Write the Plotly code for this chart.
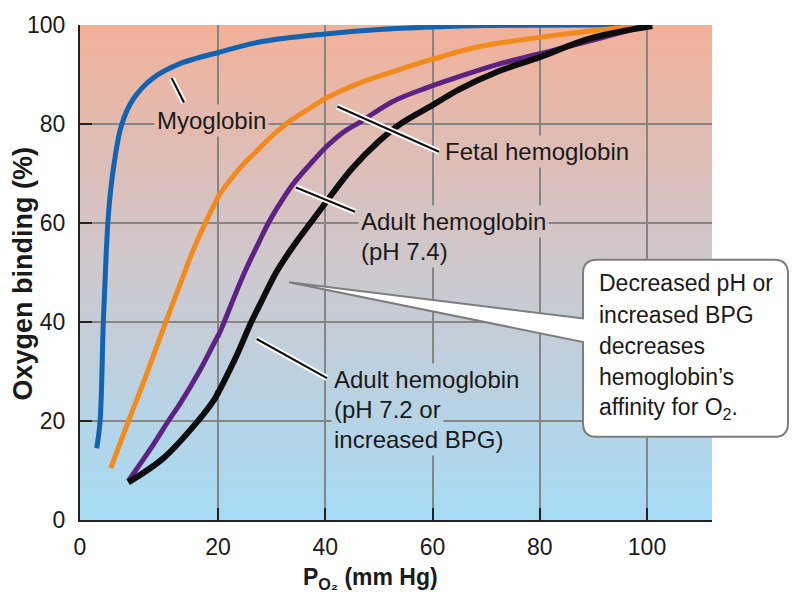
import plotly.graph_objects as go
import zlib, struct, base64

# ---------------- data ----------------
myo_x = [2.42, 2.9, 3.38, 3.8, 4.1, 4.4, 4.85, 6.0, 7.7, 10.6, 14.5, 20, 28, 40, 50, 60, 70, 100]
myo_y = [14.5, 19.8, 40, 54, 61.3, 66, 71.1, 79.7, 85, 89.3, 92.2, 94.4, 96.6, 98.2, 99.1, 99.6, 99.9, 100]

fetal_x = [4.45, 7.0, 9.4, 12.3, 14.5, 16.4, 18.6, 19.5, 20, 20.5, 22.2, 24.5, 27.1, 29.3, 31.6, 33.4,
           36.4, 40.3, 46.5, 52.7, 60, 69, 80, 89.4, 100]
fetal_y = [10.5, 19.9, 28.5, 39.5, 47.6, 54.5, 61.3, 63.8, 65.2, 66.1, 68.6, 71.6, 74.4, 76.8, 79.0, 80.6,
           82.7, 85.3, 88.3, 90.6, 93.1, 95.7, 97.5, 98.8, 100]

adult74_x = [7.0, 10.6, 12.8, 14.5, 17.4, 19.5, 20, 20.5, 21, 24.7, 27.8, 29.4, 30.9, 33.8, 37.2, 40.3,
             43.3, 46.5, 52.7, 58.9, 65.1, 72, 80, 89.4, 100]
adult74_y = [7.9, 15.2, 20, 23.5, 30.3, 35.9, 37.2, 38.3, 39.6, 49.4, 56.5, 60, 62.8, 67.6, 71.9, 75.5,
             78.3, 80.4, 84.6, 87.3, 89.6, 92, 94.2, 96.8, 100]

adult72_x = [7.0, 12.1, 17.1, 19.5, 20, 20.5, 23.5, 26.2, 27.8, 31, 34.5, 37.8, 40, 45, 50, 54, 60, 65,
             72, 80, 89.4, 101]
adult72_y = [7.6, 12.5, 20, 24.4, 25.7, 26.7, 33.3, 40, 43.5, 50.3, 56, 60.8, 64, 71, 76.5, 80, 83.8, 87,
             90.5, 93.5, 97.3, 99.8]

x_ticks_low = [0, 20]
x_ticks_high = [40, 60, 80, 100]
y_ticks = [0, 20, 40, 60, 80, 100]

# ---------------- layout geometry ----------------
W, H = 800, 610
ML, MR, MT, MB = 80, 88, 14, 90
PW, PH = W - ML - MR, H - MT - MB
SPLIT = 20                          # the 0-20 span of the axis is drawn stretched
SPLIT_PX = 218
LOW_SCALE = (SPLIT_PX - ML) / SPLIT   # px per mm Hg below 20
HIGH_SCALE = 5.3625                    # px per mm Hg above 20
OV = 6                                 # px of overlap between the two axis segments
x2_max = SPLIT + (W - MR - SPLIT_PX) / HIGH_SCALE

FONT = "Liberation Sans, Arial, sans-serif"
TXT = "#1a1a1a"


def px(xp):
    return (xp - ML) / PW


def py(yp):
    return (H - MB - yp) / PH


stops = [(0.0, (166, 219, 245)), (0.5, (205, 201, 207)), (1.0, (242, 177, 154))]


def grad(t):
    t = max(0.0, min(1.0, t))
    for (t0, c0), (t1, c1) in zip(stops[:-1], stops[1:]):
        if t0 <= t <= t1:
            f = (t - t0) / (t1 - t0)
            return tuple(int(round(a + (b - a) * f)) for a, b in zip(c0, c1))
    return stops[-1][1]


def gradient_png(n=PH, w=4):
    rows = []
    for i in range(n):
        t = 1 - i / (n - 1)
        c = grad(t)
        rows.append(b"\x00" + bytes(c) * w)
    raw = b"".join(rows)

    def chunk(tag, data):
        return (struct.pack(">I", len(data)) + tag + data +
                struct.pack(">I", zlib.crc32(tag + data) & 0xffffffff))
    ihdr = struct.pack(">IIBBBBB", w, n, 8, 2, 0, 0, 0)
    png = (b"\x89PNG\r\n\x1a\n" + chunk(b"IHDR", ihdr) +
           chunk(b"IDAT", zlib.compress(raw, 9)) + chunk(b"IEND", b""))
    return "data:image/png;base64," + base64.b64encode(png).decode()


fig = go.Figure()

series = [
    (myo_x, myo_y, "#1263b0", 5),
    (fetal_x, fetal_y, "#f28a1c", 5),
    (adult74_x, adult74_y, "#5c2383", 5),
    (adult72_x, adult72_y, "#0d0d0d", 6),
]
for xs, ys, col, lw in series:
    low = [(a, b) for a, b in zip(xs, ys) if a <= SPLIT]
    high = [(a, b) for a, b in zip(xs, ys) if a >= SPLIT]
    for pts, xa in ((low, "x"), (high, "x2")):
        fig.add_trace(go.Scatter(x=[p[0] for p in pts], y=[p[1] for p in pts],
                                 mode="lines", xaxis=xa, yaxis="y",
                                 line=dict(color=col, width=lw, shape="spline", smoothing=1.0),
                                 showlegend=False, hoverinfo="skip"))
    joint = [(a, b) for a, b in zip(xs, ys) if a == SPLIT]
    fig.add_trace(go.Scatter(x=[p[0] for p in joint], y=[p[1] for p in joint],
                             mode="markers", xaxis="x2", yaxis="y", cliponaxis=False,
                             marker=dict(color=col, size=lw, line=dict(width=0)),
                             showlegend=False, hoverinfo="skip"))

axis_common = dict(showline=True, linecolor="#222", linewidth=2, ticks="inside",
                   ticklen=12, tickwidth=2, tickcolor="#222", showgrid=True,
                   gridcolor="#858585", gridwidth=1.5, zeroline=False,
                   tickfont=dict(family=FONT, size=23, color=TXT))

fig.update_layout(
    width=W, height=H,
    margin=dict(l=ML, r=MR, t=MT, b=MB),
    paper_bgcolor="white", plot_bgcolor="rgba(0,0,0,0)",
    xaxis=dict(domain=[0, (SPLIT_PX + OV - ML) / PW], range=[0, SPLIT + OV / LOW_SCALE],
               tickvals=x_ticks_low, anchor="y", ticklabelstandoff=5, **axis_common),
    xaxis2=dict(domain=[(SPLIT_PX - OV - ML) / PW, 1], range=[SPLIT - OV / HIGH_SCALE, x2_max],
                tickvals=x_ticks_high, anchor="y", ticklabelstandoff=5, **axis_common),
    yaxis=dict(domain=[0, 1], range=[0, 100], tickvals=y_ticks, anchor="x",
               ticklabelstandoff=8, **axis_common),
    images=[dict(source=gradient_png(), xref="paper", yref="paper", x=0, y=1,
                 sizex=1, sizey=1, xanchor="left", yanchor="top",
                 sizing="stretch", layer="below")],
)

shapes = []

# callout box with wedge (pixel geometry -> paper)
bx0, bx1, by0, by1, r = 583, 788, 254, 435, 14
tip = (289, 277)
up_y, lo_y = 314, 338


def P(a, b):
    return f"{px(a):.5f},{py(b):.5f}"


path = (f"M{P(bx0, lo_y)} L{P(bx0, by1 - r)} Q{P(bx0, by1)} {P(bx0 + r, by1)} "
        f"L{P(bx1 - r, by1)} Q{P(bx1, by1)} {P(bx1, by1 - r)} "
        f"L{P(bx1, by0 + r)} Q{P(bx1, by0)} {P(bx1 - r, by0)} "
        f"L{P(bx0 + r, by0)} Q{P(bx0, by0)} {P(bx0, by0 + r)} "
        f"L{P(bx0, up_y)} L{P(*tip)} Z")
shapes.append(dict(type="path", xref="paper", yref="paper", path=path,
                   fillcolor="white", line=dict(color="#7d7d7d", width=2), layer="above"))

# pointer lines (black with white halo)
pointers = [((171.7, 68.3), (184, 93.3)),
            ((337.3, 97.3), (439, 143.5)),
            ((296, 180), (355, 205)),
            ((256.7, 335), (327, 375))]
for (xa, ya), (xb, yb) in pointers:
    for col, w in (("white", 6), ("#111", 2.2)):
        shapes.append(dict(type="line", xref="paper", yref="paper",
                           x0=px(xa), y0=py(ya), x1=px(xb), y1=py(yb),
                           line=dict(color=col, width=w), layer="above"))
fig.update_layout(shapes=shapes)

annotations = []


def rgb(c):
    return "rgb(%d,%d,%d)" % c


# curve labels: (text, x_px, y_px_mid, anchor)
labels = [
    ("Myoglobin", 211, 112, "center"),
    ("Fetal hemoglobin", 442, 143, "left"),
    ("Adult hemoglobin", 358, 215, "left"),
    ("(pH 7.4)", 358, 246, "left"),
    ("Adult hemoglobin", 331, 376, "left"),
    ("(pH 7.2 or", 331, 407, "left"),
    ("increased BPG)", 331, 438, "left"),
]
for text, xp, yp, anc in labels:
    annotations.append(dict(text=text, xref="paper", yref="paper", x=px(xp), y=py(yp),
                            xanchor=anc, yanchor="middle", showarrow=False,
                            font=dict(family=FONT, size=24, color=TXT),
                            bgcolor=rgb(grad(py(yp))), borderpad=2))

box_lines = ["Decreased pH or", "increased BPG", "decreases",
             "hemoglobin’s", "affinity for O<sub>2</sub>."]
box_y = [278, 310, 342, 374, 406]
for text, yp in zip(box_lines, box_y):
    annotations.append(dict(text=text, xref="paper", yref="paper", x=px(597), y=py(yp),
                            xanchor="left", yanchor="middle", showarrow=False,
                            font=dict(family=FONT, size=23, color=TXT)))

# axis titles
annotations.append(dict(text="<b>Oxygen binding (%)</b>", xref="paper", yref="paper",
                        x=px(23), y=py(268), xanchor="center", yanchor="middle",
                        textangle=-90, showarrow=False,
                        font=dict(family=FONT, size=27, color=TXT)))
annotations.append(dict(text="<b>P<sub>O₂</sub> (mm Hg)</b>", xref="paper", yref="paper",
                        x=px(370), y=py(580), xanchor="center", yanchor="middle",
                        showarrow=False, font=dict(family=FONT, size=23, color=TXT)))
fig.update_layout(annotations=annotations)

fig.write_html("out.html")
